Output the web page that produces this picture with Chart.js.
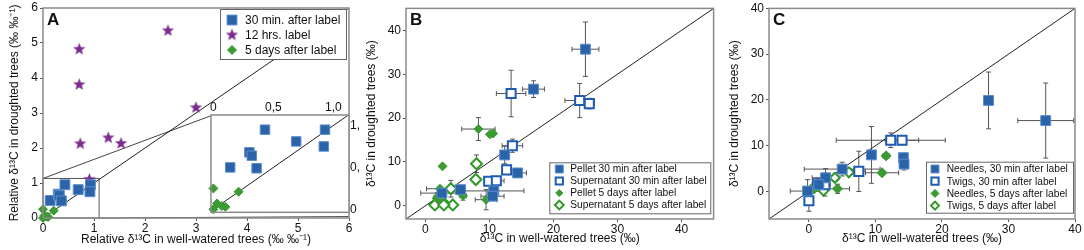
<!DOCTYPE html>
<html>
<head>
<meta charset="utf-8">
<title>d13C droughted vs well-watered</title>
<script src="https://cdn.jsdelivr.net/npm/chart.js@4.4.1/dist/chart.umd.min.js"></script>
<style>
  body { margin: 0; background: #fff; }
  #wrap { position: relative; width: 1084px; height: 250px; overflow: hidden; }
  canvas { position: absolute; top: 0; }
</style>
</head>
<body>
<div id="wrap">
  <canvas id="panelA" width="360" height="250" style="left:0"></canvas>
  <canvas id="panelInset" width="164" height="124" style="left:196px;top:96px"></canvas>
  <canvas id="panelB" width="362" height="250" style="left:360px"></canvas>
  <canvas id="panelC" width="362" height="250" style="left:722px"></canvas>
</div>
<script>
// ---- data: [x, y, xErr, yErr] ----
// panel A (relative values)
var aThirtyMin = [[0.14,0.50],[0.30,0.68],[0.32,0.64],[0.36,0.49],[0.43,0.95],[0.69,0.81],[0.93,0.95],[0.92,0.75]];
var aTwelveHrs = [[0.71,4.82],[0.71,3.81],[0.73,2.12],[1.28,2.29],[1.53,2.13],[0.91,1.10],[2.45,5.35],[3.00,3.15]];
var aFiveDays = [[0,0.25],[0.21,0.21],[0,0],[0.03,0.07],[0.07,0.04],[0.10,0.03]];
var aTicks = [0, 1, 2, 3, 4, 5, 6];
var insetTicks = [0, 0.5, 1];

// panel B (phloem pellet / supernatant)
var bPellet30 = [[25.0,35.7,2.1,6.2],[16.9,26.6,1.7,1.9],[12.4,11.6,0.6,2.0],[14.4,7.5,1.4,1.0],[5.5,3.7,0.8,0.8],
                 [10.7,3.4,4.7,0.8],[10.5,2.2,1.8,1.0],[2.6,2.9,3.3,0.5]];
var bSuper30 = [[13.4,25.6,2.3,5.3],[24.1,24.0,2.3,3.9],[25.6,23.3,0.8,1.2],[13.6,13.7,1.6,1.5],[12.7,8.2,0.5,0.5],
                [9.9,5.6,0.6,0.6],[11.1,5.7,1.2,0.5]];
var bPellet5 = [[8.3,17.5,2.6,2.6],[10.1,16.3,0,0],[10.6,16.5,0,0],[2.7,9.0,0,0],[2.3,3.9,2.1,0.5],[1.9,2.0,0.5,1.0],
                [2.1,1.3,0.5,0.5],[5.9,2.3,0.5,1.0],[9.5,1.4,1.7,2.3]];
var bSuper5 = [[8.0,9.6,0.5,2.0],[7.9,6.0,0.4,1.0],[4.0,3.9,0.5,1.9],[4.3,0.2,0.3,0.5],[1.5,0.2,0.3,0.3],
               [2.7,0.9,0.3,0.4],[2.9,0.2,0.3,0.3],[2.1,1.7,0.3,0.3]];
var bTicks = [0, 10, 20, 30, 40];

// panel C (needles / twigs)
var cNeedle30 = [[27.0,19.9,0,6.2],[35.6,15.5,4.2,8.2],[9.4,8.0,0.5,6.2],[14.2,7.4,0.4,0.8],[14.3,6.0,0.5,1.3],
                 [5.0,4.9,5.7,1.5],[2.5,3.0,2.0,2.0],[-0.2,0.1,2.6,2.5],[1.5,1.5,1.0,1.0]];
var cTwig30 = [[12.3,11.2,8.2,1.6],[14.0,11.2,2.5,1.0],[7.5,4.4,1.0,4.4],[1.3,1.7,0.8,1.2],[0,-2.0,0.6,2.3],[2.4,1.5,0.8,2.5]];
var cNeedle5 = [[11.6,7.8,0.5,0.5],[11.0,4.1,2.5,0.5],[4.3,0.6,1.8,1.0],[0.3,0.2,0.4,0.5],[0.8,0.6,0.5,0.5],
                [1.3,1.0,0.5,0.5],[0.2,0.0,0.3,0.3]];
var cTwig5 = [[6.0,4.2,0.5,0.5],[3.9,3.0,0.5,0.8],[2.2,0.2,0.4,0.8],[0.3,0.3,0.3,0.3]];
var cTicks = [0, 10, 20, 30, 40];

var FONT = '"Liberation Sans", Arial, Helvetica, sans-serif';
var BLUE = '#2b63a8', BLUE_EDGE = '#5b8dcc', BLUE_OPEN = '#1d5cb0';
var GREEN = '#3c9a33', GREEN_OPEN = '#2f9a29', PURPLE = '#7b2c8e';

function pts(list) {
  return list.map(function (p) { return { x: p[0], y: p[1], xe: p[2] || 0, ye: p[3] || 0 }; });
}

function starImage(r, color) {
  var c = document.createElement('canvas');
  var s = Math.ceil(r * 2 + 2);
  c.width = s; c.height = s;
  var g = c.getContext('2d');
  g.fillStyle = color;
  g.beginPath();
  for (var i = 0; i < 10; i++) {
    var rr = i % 2 ? r * 0.42 : r;
    var ang = -Math.PI / 2 + i * Math.PI / 5;
    var px = s / 2 + rr * Math.cos(ang), py = s / 2 + rr * Math.sin(ang);
    if (i) g.lineTo(px, py); else g.moveTo(px, py);
  }
  g.closePath();
  g.fill();
  return c;
}

function series(label, list, style, r) {
  var ds = { label: label, data: pts(list), pointRadius: r, clip: false };
  if (style === 'filledSquare') { ds.pointStyle = 'rect'; ds.backgroundColor = BLUE; ds.borderColor = BLUE_EDGE; ds.pointBorderWidth = 1; }
  if (style === 'openSquare') { ds.pointStyle = 'rect'; ds.backgroundColor = '#fff'; ds.borderColor = BLUE_OPEN; ds.pointBorderWidth = 2; }
  if (style === 'filledDiamond') { ds.pointStyle = 'rectRot'; ds.backgroundColor = GREEN; ds.borderColor = GREEN; ds.pointBorderWidth = 1; }
  if (style === 'openDiamond') { ds.pointStyle = 'rectRot'; ds.backgroundColor = '#fff'; ds.borderColor = GREEN_OPEN; ds.pointBorderWidth = 2; }
  if (style === 'star') { ds.pointStyle = starImage(6.5, PURPLE); ds.backgroundColor = PURPLE; ds.borderColor = PURPLE; ds.pointBorderWidth = 0; }
  ds.borderWidth = ds.pointBorderWidth;
  return ds;
}

// 1:1 line across the axis range
function oneToOne(lo, hi) {
  return { label: '', data: [{ x: lo, y: lo }, { x: hi, y: hi }], showLine: true, pointRadius: 0,
           borderColor: '#222', borderWidth: 1, order: 9 };
}

/////////// plugins ////////////

var whiteBg = {
  id: 'whiteBg',
  beforeDraw: function (chart, args, o) {
    var ctx = chart.ctx, a = chart.chartArea;
    ctx.save();
    ctx.fillStyle = '#fff';
    if (o.area) ctx.fillRect(a.left, a.top, a.right - a.left, a.bottom - a.top);
    else ctx.fillRect(0, 0, chart.width, chart.height);
    ctx.restore();
  }
};

var errorBars = {
  id: 'errorBars',
  beforeDatasetsDraw: function (chart) {
    var ctx = chart.ctx, xs = chart.scales.x, ys = chart.scales.y, cap = 2.5;
    ctx.save();
    ctx.strokeStyle = '#555';
    ctx.lineWidth = 1;
    chart.data.datasets.forEach(function (ds) {
      ds.data.forEach(function (p) {
        var px = xs.getPixelForValue(p.x), py = ys.getPixelForValue(p.y);
        ctx.beginPath();
        if (p.xe) {
          var x1 = xs.getPixelForValue(p.x - p.xe), x2 = xs.getPixelForValue(p.x + p.xe);
          ctx.moveTo(x1, py); ctx.lineTo(x2, py);
          ctx.moveTo(x1, py - cap); ctx.lineTo(x1, py + cap);
          ctx.moveTo(x2, py - cap); ctx.lineTo(x2, py + cap);
        }
        if (p.ye) {
          var y1 = ys.getPixelForValue(p.y - p.ye), y2 = ys.getPixelForValue(p.y + p.ye);
          ctx.moveTo(px, y1); ctx.lineTo(px, y2);
          ctx.moveTo(px - cap, y1); ctx.lineTo(px + cap, y1);
          ctx.moveTo(px - cap, y2); ctx.lineTo(px + cap, y2);
        }
        ctx.stroke();
      });
    });
    ctx.restore();
  }
};

// grey box round the plot area
var frame = {
  id: 'frame',
  afterDatasetsDraw: function (chart) {
    var ctx = chart.ctx, a = chart.chartArea;
    ctx.save();
    ctx.strokeStyle = '#8a8a8a';
    ctx.lineWidth = 1.5;
    ctx.strokeRect(a.left, a.top, a.right - a.left, a.bottom - a.top);
    ctx.restore();
  }
};

// small box on panel A showing what the inset enlarges
var zoomBox = {
  id: 'zoomBox',
  beforeDatasetsDraw: function (chart, args, o) {
    var ctx = chart.ctx, xs = chart.scales.x, ys = chart.scales.y;
    function X(v) { return xs.getPixelForValue(v); }
    function Y(v) { return ys.getPixelForValue(v); }
    ctx.save();
    ctx.strokeStyle = '#555';
    ctx.lineWidth = 1;
    ctx.strokeRect(X(0), Y(o.box[1]), X(o.box[0]) - X(0), Y(0) - Y(o.box[1]));
    ctx.strokeStyle = '#444';
    ctx.beginPath();
    ctx.moveTo(X(0), Y(o.box[1])); ctx.lineTo(X(o.to1[0]), Y(o.to1[1]));
    ctx.moveTo(X(o.box[0]), Y(0)); ctx.lineTo(X(o.to2[0]), Y(o.to2[1]));
    ctx.stroke();
    ctx.restore();
  }
};

var boxLegend = {
  id: 'boxLegend',
  afterDatasetsDraw: function (chart, args, o) {
    var ctx = chart.ctx, a = chart.chartArea;
    var x = a.right - o.right - o.w;
    var y = o.top != null ? a.top + o.top : a.bottom - o.bottom - o.h;
    ctx.save();
    ctx.fillStyle = '#fff';
    ctx.fillRect(x, y, o.w, o.h);
    ctx.strokeStyle = '#666';
    ctx.lineWidth = 1;
    ctx.strokeRect(x + 0.5, y + 0.5, o.w, o.h);
    ctx.font = o.size + 'px ' + FONT;
    ctx.textBaseline = 'middle';
    chart.data.datasets.filter(function (d) { return d.label; }).forEach(function (ds, i) {
      var cy = y + o.first + i * o.row;
      ctx.fillStyle = ds.backgroundColor;
      ctx.strokeStyle = ds.borderColor;
      ctx.lineWidth = ds.pointBorderWidth;
      Chart.helpers.drawPoint(ctx, { pointStyle: ds.pointStyle, radius: ds.pointRadius * o.scale,
                                     borderWidth: ds.pointBorderWidth, rotation: 0 }, x + o.mark, cy);
      ctx.fillStyle = '#111';
      ctx.fillText(ds.label, x + o.text, cy + 0.5);
    });
    ctx.restore();
  }
};

var panelTag = {
  id: 'panelTag',
  afterDraw: function (chart, args, o) {
    var ctx = chart.ctx, a = chart.chartArea;
    ctx.save();
    ctx.font = 'bold 17px ' + FONT;
    ctx.fillStyle = '#111';
    ctx.textBaseline = 'middle';
    ctx.fillText(o.text, a.left + 4, a.top + 12);
    ctx.restore();
  }
};

function axis(a) {
  return {
    type: 'linear', position: a.pos, min: a.min, max: a.max,
    title: { display: !!a.title, text: a.title, color: '#111', font: { family: FONT, size: 12 }, padding: a.titlePad || 4 },
    ticks: { color: '#111', font: { family: FONT, size: 12 }, padding: a.tickPad, callback: a.fmt },
    grid: { display: a.tickLen > 0, drawOnChartArea: false, drawTicks: a.tickLen > 0, tickLength: a.tickLen, color: '#555' },
    border: { display: false },
    afterBuildTicks: function (s) { s.ticks = a.ticks.map(function (v) { return { value: v }; }); },
    afterFit: function (s) {
      if (a.pos === 'left' || a.pos === 'right') s.width = a.size;
      else s.height = a.size;
      // keep the plot box where the layout padding puts it
      s.paddingTop = 0; s.paddingBottom = 0; s.paddingLeft = 0; s.paddingRight = 0;
    }
  };
}

function makePanel(id, cfg) {
  return new Chart(document.getElementById(id), {
    type: 'scatter',
    data: { datasets: cfg.datasets },
    options: {
      responsive: false,
      animation: false,
      events: [],
      layout: { padding: cfg.pad },
      plugins: {
        legend: { display: false },
        tooltip: { enabled: false },
        whiteBg: { area: !!cfg.areaOnly },
        boxLegend: cfg.legend || false,
        panelTag: cfg.tag ? { text: cfg.tag } : false,
        zoomBox: cfg.zoom || false
      },
      scales: { x: axis(cfg.x), y: axis(cfg.y) }
    },
    plugins: [whiteBg, errorBars, zoomBox, frame, boxLegend, panelTag]
  });
}

var titleDry = 'δ¹³C in droughted trees (‰)';
var titleWet = 'δ¹³C in well-watered trees (‰)';

/////////// panel A ////////////
makePanel('panelA', {
  tag: 'A',
  pad: { top: 6, right: 11, left: 0, bottom: 0 },
  datasets: [
    series('30 min. after label', aThirtyMin, 'filledSquare', 7),
    series('12 hrs. label', aTwelveHrs, 'star', 6),
    series('5 days after label', aFiveDays, 'filledDiamond', 4.5),
    oneToOne(0, 6)
  ],
  x: { pos: 'bottom', min: 0, max: 6, ticks: aTicks, size: 32, tickLen: 3, tickPad: 0,
       title: 'Relative δ¹³C in well-watered trees (‰ ‰⁻¹)', titlePad: { top: 4, bottom: 3 } },
  y: { pos: 'left', min: 0, max: 6, ticks: aTicks, size: 43, tickLen: 3, tickPad: 2,
       title: 'Relative δ¹³C in droughted trees (‰ ‰⁻¹)', titlePad: { top: 7, bottom: 4 } },
  legend: { top: 1, right: 3, w: 126, h: 50, first: 11, row: 15, mark: 12, text: 25, size: 12, scale: 1 },
  zoom: { box: [1.1, 1.13], to1: [3.29, 2.92], to2: [6, 0.04] }
});

// inset of panel A: the 0-1 corner enlarged
function commaTick(v) { return v === 0 ? '0' : v.toFixed(1).replace('.', ','); }
makePanel('panelInset', {
  areaOnly: true,
  pad: { top: 0, right: 0, left: 15, bottom: 3.5 },
  datasets: [
    series('', aThirtyMin, 'filledSquare', 6.7),
    series('', aFiveDays, 'filledDiamond', 4.5),
    oneToOne(-0.02, 1.13)
  ],
  x: { pos: 'top', min: -0.02, max: 1.13, ticks: insetTicks, size: 19, tickLen: 0, tickPad: 0, fmt: commaTick },
  y: { pos: 'right', min: -0.035, max: 1.125, ticks: insetTicks, size: 11, tickLen: 0, tickPad: 1, fmt: commaTick }
});

/////////// panel B ////////////
makePanel('panelB', {
  tag: 'B',
  pad: { top: 5, right: 8, left: 0, bottom: 0 },
  datasets: [
    series('Pellet 30 min after label', bPellet30, 'filledSquare', 7),
    series('Supernatant 30 min after label', bSuper30, 'openSquare', 6.4),
    series('Pellet 5 days after label', bPellet5, 'filledDiamond', 4.5),
    series('Supernatant 5 days after label', bSuper5, 'openDiamond', 5.5),
    oneToOne(-3, 45)
  ],
  x: { pos: 'bottom', min: -3, max: 45, ticks: bTicks, size: 31, tickLen: 3, tickPad: 0, title: titleWet,
       titlePad: { top: 4, bottom: 4 } },
  y: { pos: 'left', min: -3, max: 45, ticks: bTicks, size: 46, tickLen: 3, tickPad: 2, title: titleDry,
       titlePad: { top: 4, bottom: 4 } },
  legend: { bottom: 5.7, right: 3.3, w: 161, h: 51, first: 6.7, row: 12, mark: 10, text: 21, size: 10.2, scale: 0.8 }
});

/////////// panel C ////////////
makePanel('panelC', {
  tag: 'C',
  pad: { top: 5, right: 9, left: 0, bottom: 0 },
  datasets: [
    series('Needles, 30 min after label', cNeedle30, 'filledSquare', 7),
    series('Twigs, 30 min after label', cTwig30, 'openSquare', 6.4),
    series('Needles, 5 days after label', cNeedle5, 'filledDiamond', 5),
    series('Twigs, 5 days after label', cTwig5, 'openDiamond', 5),
    oneToOne(-6, 40)
  ],
  x: { pos: 'bottom', min: -6, max: 40, ticks: cTicks, size: 31, tickLen: 3, tickPad: 0, title: titleWet,
       titlePad: { top: 4, bottom: 4 } },
  y: { pos: 'left', min: -6, max: 40, ticks: cTicks, size: 47, tickLen: 3, tickPad: 2, title: titleDry,
       titlePad: { top: 5, bottom: 4 } },
  legend: { bottom: 6.3, right: 2, w: 147, h: 51, first: 7.3, row: 12.2, mark: 9, text: 20.7, size: 10.2, scale: 0.8 }
});
</script>
</body>
</html>
